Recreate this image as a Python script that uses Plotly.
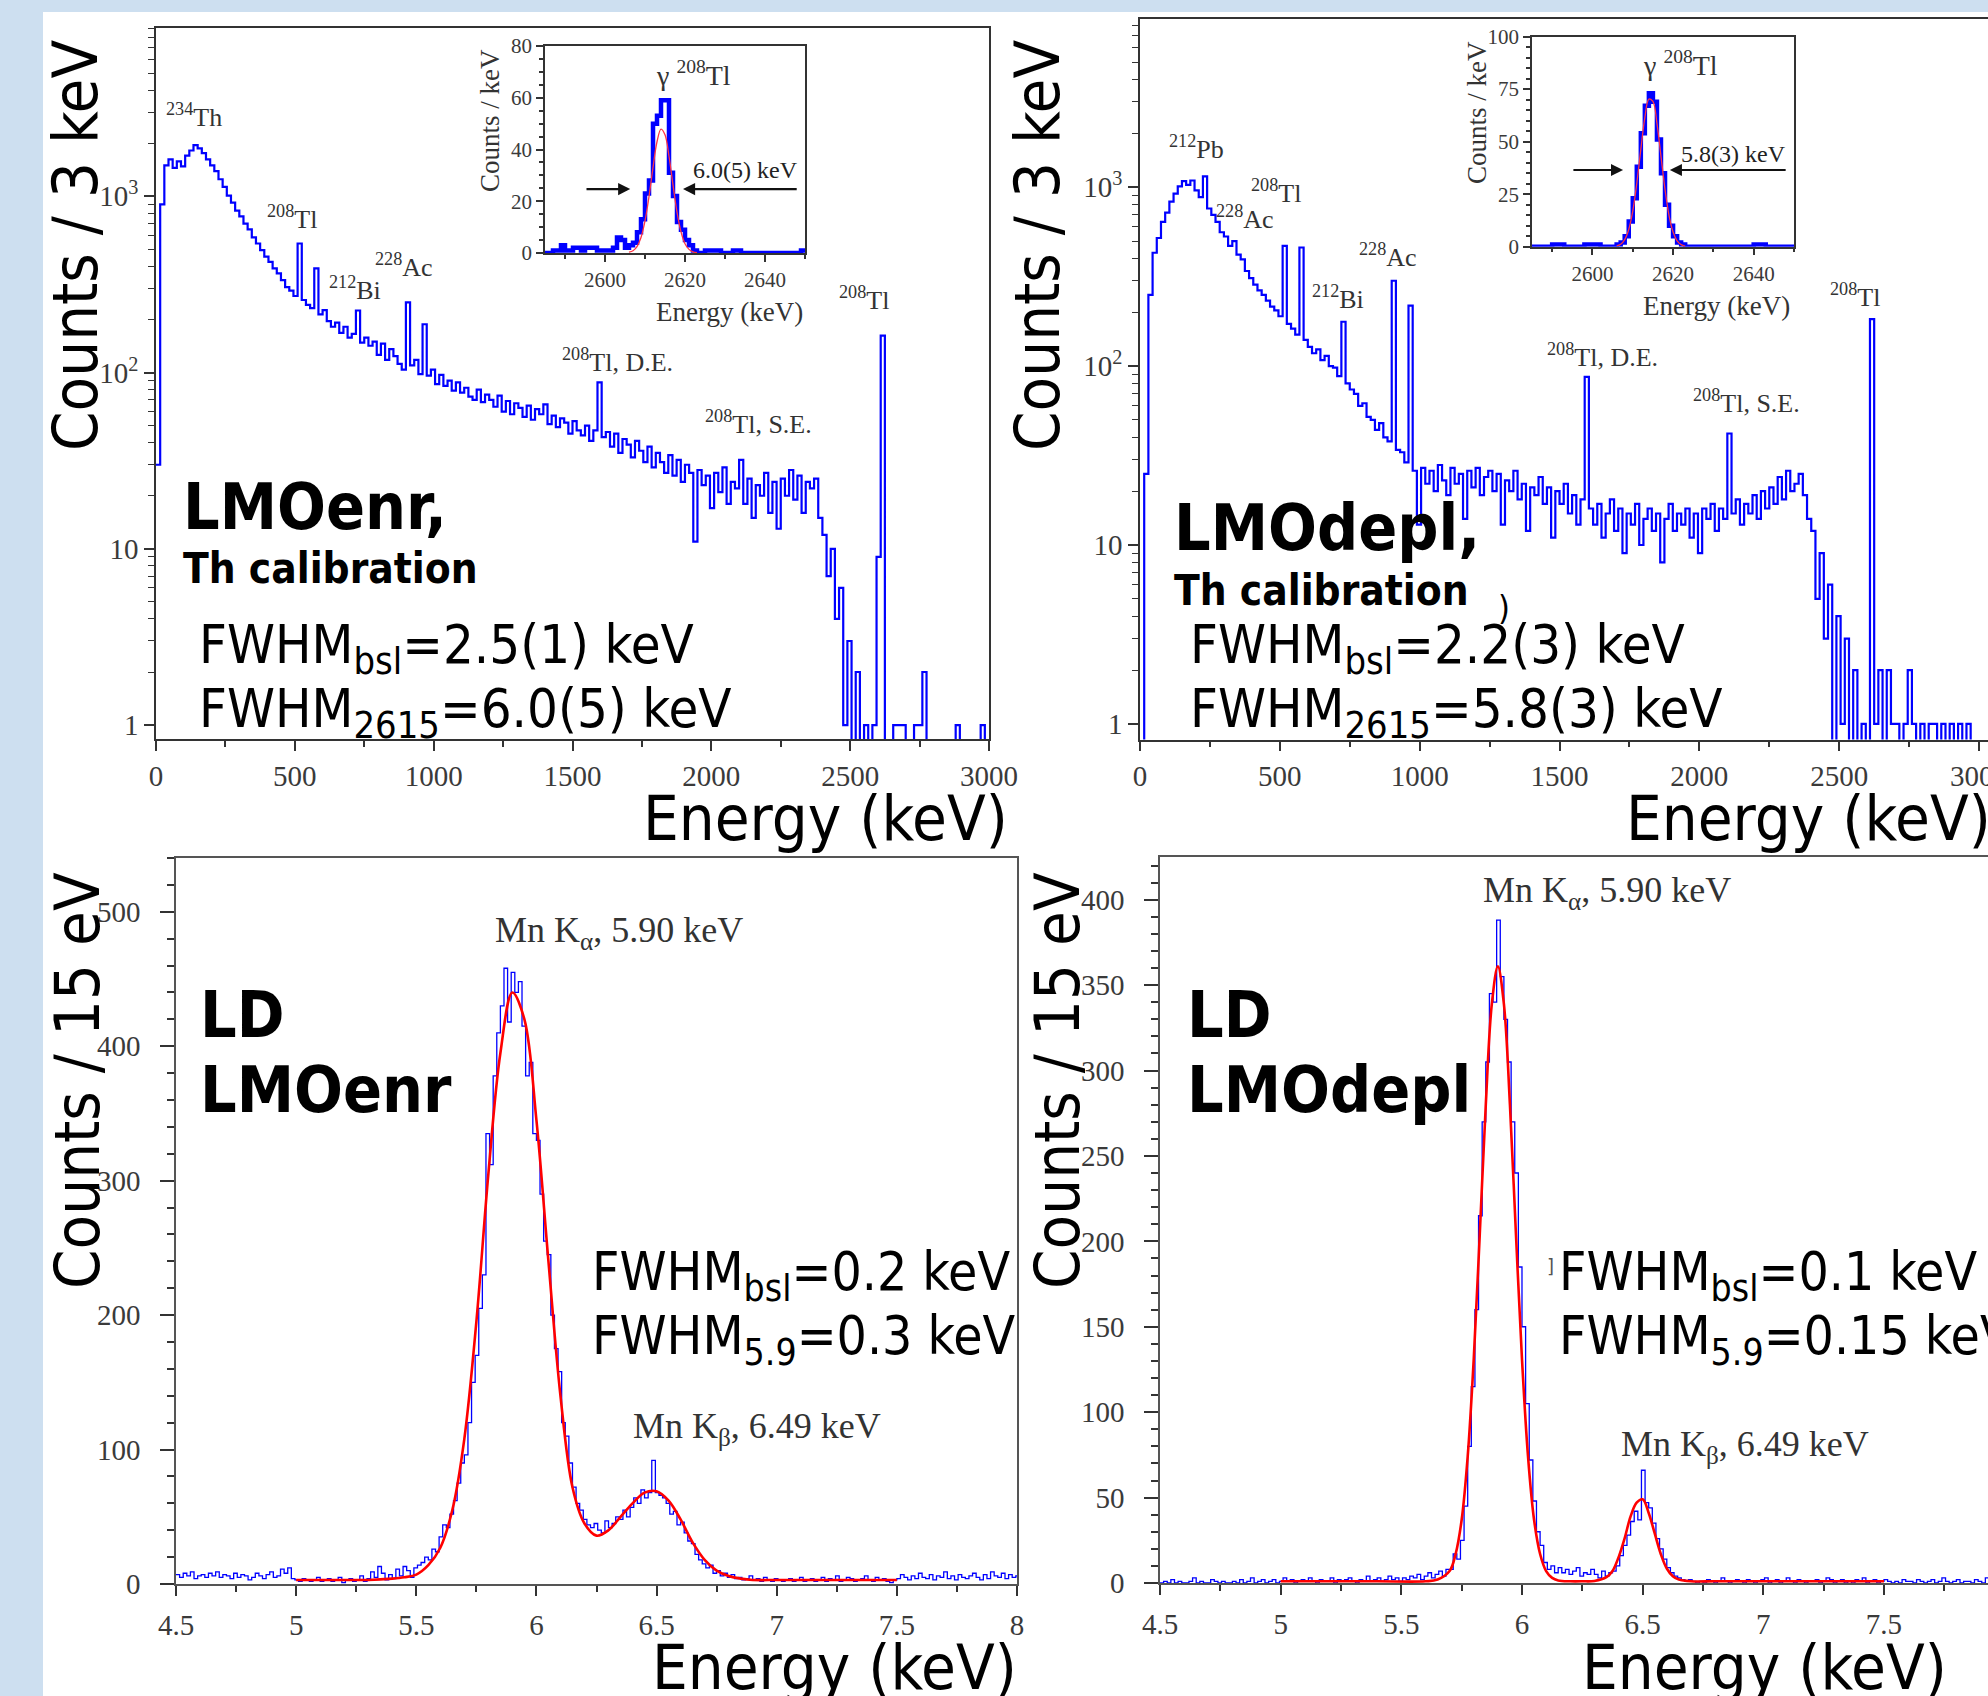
import numpy as np
import plotly.graph_objects as go

W, H = 1988, 1696

# ------------------------------------------------------------------
# Th-calibration spectra: counts per 15-keV bin, bins start at 0 keV
# ------------------------------------------------------------------
TH_BIN_KEV = 15.0
lmo_enr_th = [
    30, 900, 1500, 1620, 1450, 1580, 1480, 1700, 1820, 1950,
    1870, 1760, 1620, 1500, 1390, 1250, 1130, 1010, 920, 830,
    770, 700, 650, 585, 540, 495, 455, 425, 390, 365,
    335, 305, 292, 272, 540, 258, 242, 232, 390, 214,
    226, 196, 182, 192, 168, 182, 158, 166, 225, 148,
    158, 142, 150, 126, 146, 118, 136, 124, 112, 104,
    250, 110, 118, 98, 188, 96, 104, 86, 97, 84,
    90, 79, 88, 77, 82, 73, 70, 80, 68, 75,
    70, 64, 74, 60, 69, 58, 67, 63, 56, 65,
    54, 62, 58, 66, 51, 57, 49, 55, 52, 45,
    53, 47, 44, 50, 41, 47, 88, 43, 46, 38,
    45, 35, 42, 39, 33, 41, 36, 31, 38, 29,
    35, 31, 27, 34, 26, 32, 24, 30, 27, 11,
    28, 23, 26, 17, 27, 21, 29, 18, 24, 22,
    32, 18, 25, 15, 23, 20, 27, 16, 24, 13,
    25, 20, 28, 19, 26, 16, 24, 22, 25, 15,
    12, 7, 10, 4, 6, 1, 3, 0, 2, 0,
    1, 0, 1, 9, 162, 0, 0, 1, 1, 1,
    0, 0, 1, 1, 2, 0, 0, 0, 0, 0,
    0, 0, 1, 0, 0, 0, 0, 0, 1, 0,
]
lmo_depl_th = [
    0, 25, 250, 430, 520, 640, 720, 830, 920, 1010,
    1080, 1030, 1090, 960, 880, 1150, 760, 700, 640, 560,
    530, 470, 500, 420, 395, 340, 310, 285, 265, 250,
    232, 215, 205, 190, 470, 172, 162, 150, 460, 140,
    128, 118, 124, 108, 114, 100, 98, 88, 177, 80,
    74, 70, 60, 62, 52, 50, 44, 48, 40, 38,
    300, 34, 33, 29, 218, 26, 13, 27, 22, 26,
    20, 28, 23, 19, 27, 22, 25, 14, 26, 21,
    27, 19, 24, 26, 20, 25, 13, 23, 20, 26,
    18, 22, 12, 21, 19, 24, 17, 21, 11, 20,
    17, 22, 15, 19, 13, 18, 87, 16, 13, 17,
    11, 15, 18, 12, 16, 9, 15, 13, 17, 10,
    14, 16, 12, 15, 8, 14, 17, 12, 15, 13,
    16, 11, 15, 9, 16, 14, 17, 12, 16, 14,
    42, 15, 18, 13, 17, 15, 19, 14, 20, 16,
    21, 17, 24, 18, 26, 20, 22, 25, 19, 14,
    12, 5, 9, 3, 6, 0, 4, 1, 3, 0,
    2, 0, 1, 0, 183, 1, 2, 0, 2, 1,
    1, 0, 1, 2, 1, 0, 1, 0, 1, 1,
    0, 1, 0, 1, 0, 1, 0, 1, 0, 0,
]

# ------------------------------------------------------------------
# 2615 keV insets: counts per 1-keV bin, bins start at 2585 keV
# ------------------------------------------------------------------
INSET_LO_KEV = 2585.0
INSET_BIN_KEV = 1.0
lmo_enr_2615 = [
    0, 0, 1, 1, 3, 1, 1, 2, 2, 1,
    2, 2, 2, 1, 1, 1, 1, 2, 6, 5,
    2, 3, 4, 8, 13, 23, 28, 50, 53, 59,
    59, 31, 22, 12, 9, 5, 3, 1, 0, 0,
    1, 1, 1, 1, 0, 0, 0, 1, 1, 0,
    0, 0, 0, 0, 0, 0, 0, 0, 0, 0,
    0, 0, 0, 0, 1,
]
lmo_depl_2615 = [
    0, 0, 0, 0, 0, 1, 1, 1, 0, 0,
    0, 0, 0, 1, 1, 1, 1, 0, 0, 0,
    0, 1, 2, 5, 12, 23, 38, 54, 67, 73,
    69, 51, 35, 20, 10, 5, 2, 1, 0, 0,
    0, 0, 0, 0, 0, 0, 0, 0, 0, 0,
    0, 0, 0, 0, 0, 1, 1, 1, 0, 0,
    0, 0, 0, 0, 0,
]
fit_2615_energy = [2606, 2607, 2608, 2609, 2610, 2611, 2612, 2613, 2614,
                   2615, 2616, 2617, 2618, 2619, 2620, 2621, 2622, 2623]
lmo_enr_2615_fit = [0.3, 0.9, 2.5, 6, 12.4, 21.8, 33, 43, 47.9,
                    45.7, 37.4, 26.3, 15.8, 8.2, 3.6, 1.4, 0.45, 0.1]
lmo_depl_2615_fit = [0.4, 1.2, 3.4, 8.2, 16.9, 30.2, 46.3, 61.4, 70.2,
                     69.1, 58.7, 43, 27.2, 14.8, 7, 2.8, 1, 0.3]

# ------------------------------------------------------------------
# Light detectors, 55Fe X-rays: counts per 15-eV bin from 4.5 keV
# ------------------------------------------------------------------
LD_LO_KEV = 4.5
LD_BIN_KEV = 0.015
ld_enr_counts = [
    7, 5, 8, 6, 9, 4, 6, 7, 5, 8,
    6, 9, 5, 7, 6, 4, 8, 5, 7, 6,
    3, 5, 8, 6, 4, 7, 9, 5, 6, 11,
    8, 12, 4, 3, 2, 4, 3, 2, 3, 5,
    2, 3, 4, 2, 3, 5, 1, 3, 4, 2,
    3, 6, 2, 4, 9, 5, 13, 8, 3, 7,
    4, 11, 6, 13, 10, 5, 12, 14, 16, 20,
    18, 26, 24, 35, 44, 42, 52, 62, 75, 90,
    96, 120, 150, 170, 205, 230, 335, 312, 378, 410,
    430, 458, 418, 455, 440, 448, 415, 378, 388, 335,
    330, 290, 255, 245, 200, 175, 158, 120, 110, 90,
    72, 60, 55, 48, 44, 42, 45, 40, 38, 47,
    42, 45, 50, 48, 55, 50, 57, 64, 60, 70,
    64, 68, 92, 68, 66, 64, 60, 52, 54, 44,
    46, 38, 32, 30, 22, 18, 15, 12, 14, 8,
    10, 6, 8, 5, 7, 4, 5, 3, 4, 6,
    3, 4, 2, 5, 3, 2, 4, 3, 2, 3,
    4, 2, 3, 5, 2, 3, 4, 2, 3, 5,
    2, 4, 3, 6, 2, 3, 5, 4, 2, 3,
    4, 6, 3, 2, 5, 3, 4, 2, 1, 3,
    4, 7, 5, 3, 6, 4, 8, 5, 4, 7,
    3, 6, 5, 9, 4, 6, 3, 7, 5, 4,
    6, 8, 5, 3, 7, 4, 9, 6, 5, 8,
    4, 7, 5, 6,
]
ld_depl_counts = [
    0, 1, 0, 2, 0, 1, 0, 0, 1, 3,
    0, 1, 0, 0, 2, 1, 0, 1, 0, 0,
    1, 0, 2, 0, 1, 3, 0, 1, 2, 0,
    1, 2, 0, 1, 3, 1, 2, 0, 1, 2,
    1, 3, 1, 0, 2, 1, 1, 3, 0, 2,
    1, 2, 3, 1, 0, 2, 1, 4, 1, 2,
    3, 1, 2, 4, 2, 3, 1, 3, 2, 4,
    3, 5, 2, 4, 6, 3, 5, 7, 4, 8,
    8, 17, 14, 25, 45, 80, 115, 160, 215, 270,
    305, 345, 340, 388, 355, 330, 305, 270, 240, 185,
    150, 105, 72, 48, 30, 22, 12, 8, 10, 6,
    9, 6, 8, 5, 7, 9, 4, 6, 5, 8,
    5, 3, 7, 4, 6, 7, 10, 16, 22, 28,
    36, 42, 37, 66, 47, 44, 35, 26, 20, 14,
    9, 6, 4, 3, 2, 1, 2, 1, 0, 1,
    0, 2, 1, 0, 1, 3, 1, 0, 1, 2,
    1, 0, 2, 1, 0, 1, 2, 3, 0, 1,
    2, 0, 1, 3, 1, 0, 2, 1, 0, 1,
    1, 2, 0, 1, 3, 2, 0, 1, 2, 0,
    1, 0, 2, 1, 3, 0, 1, 2, 0, 1,
    2, 1, 0, 1, 0, 2, 1, 1, 0, 2,
    1, 0, 1, 2, 0, 1, 3, 1, 0, 1,
    2, 0, 1, 1, 0, 2, 1, 0, 3, 1,
    0, 2, 1, 1,
]
ld_enr_fit_energy = [5.0, 5.1, 5.2, 5.3, 5.4, 5.45, 5.5, 5.55, 5.6, 5.65,
                     5.7, 5.75, 5.8, 5.85, 5.9, 5.95, 6.0, 6.05, 6.1, 6.15,
                     6.2, 6.25, 6.3, 6.35, 6.4, 6.45, 6.5, 6.55, 6.6, 6.65,
                     6.7, 6.75, 6.8, 6.85, 6.9, 7.0, 7.1, 7.2, 7.3, 7.4, 7.5]
ld_enr_fit = [3, 3, 3, 3, 4, 5, 7, 14, 27, 55,
              108, 195, 305, 395, 440, 420, 345, 240, 140, 72,
              45, 36, 40, 50, 60, 68, 69, 62, 48, 31,
              18, 10, 6, 4, 3, 3, 3, 3, 3, 3, 3]
ld_depl_fit_energy = [5.0, 5.2, 5.4, 5.6, 5.65, 5.7, 5.725, 5.75, 5.775, 5.8,
                      5.825, 5.85, 5.875, 5.9, 5.925, 5.95, 5.975, 6.0,
                      6.025, 6.05, 6.075, 6.1, 6.125, 6.15, 6.2, 6.25, 6.3, 6.35,
                      6.375, 6.4, 6.425, 6.45, 6.475, 6.5, 6.525, 6.55, 6.575,
                      6.6, 6.625, 6.65, 6.7, 6.8, 7.0, 7.2, 7.5]
ld_depl_fit = [1, 1, 1, 1, 2, 7, 17, 37, 74, 131,
               204, 280, 339, 361, 339, 280, 204, 131,
               74, 37, 17, 7, 3, 1.5, 1, 1, 1.2, 3.4,
               7, 15, 26, 39, 47, 49, 41, 29, 17,
               8.5, 4, 2, 1, 1, 1, 1, 1]

# tick labels
th_tickvals = [0, 500, 1000, 1500, 2000, 2500, 3000]
log_tickvals = [1, 10, 100, 1000]
log_ticktext = ["1", "10", "10<sup>2</sup>", "10<sup>3</sup>"]
ld_tickvals = [4.5, 5, 5.5, 6, 6.5, 7, 7.5, 8]
ld_ticktext = ["4.5", "5", "5.5", "6", "6.5", "7", "7.5", "8"]
inset_tickvals = [2600, 2620, 2640]

# ------------------------------------------------------------------
SANS = "DejaVu Sans Condensed, DejaVu Sans, sans-serif"
SERIF = "Liberation Serif, Times New Roman, serif"
BLUE = "#0000ff"
RED = "#ff0000"
LBL = "#3a3a3a"


def step_xy(lo, width, counts, floor=None):
    c = np.asarray(counts, dtype=float)
    if floor is not None:
        c = np.where(c > 0, c, floor)
    edges = lo + width * np.arange(len(c) + 1)
    return edges, np.append(c, c[-1])


fig = go.Figure()


def hist(lo, w, counts, xa, ya, width, floor=None):
    x, y = step_xy(lo, w, counts, floor)
    fig.add_trace(go.Scatter(x=x, y=y, mode="lines", xaxis=xa, yaxis=ya,
                             line=dict(color=BLUE, width=width, shape="hv"),
                             hoverinfo="skip"))


def fitline(x, y, xa, ya, width, color=RED):
    fig.add_trace(go.Scatter(x=x, y=y, mode="lines", xaxis=xa, yaxis=ya,
                             line=dict(color=color, width=width, shape="spline"),
                             hoverinfo="skip"))


hist(0, TH_BIN_KEV, lmo_enr_th, "x", "y", 2.2, floor=0.3)
hist(0, TH_BIN_KEV, lmo_depl_th, "x2", "y2", 2.2, floor=0.3)
hist(LD_LO_KEV, LD_BIN_KEV, ld_enr_counts, "x3", "y3", 1.3)
fitline(ld_enr_fit_energy, ld_enr_fit, "x3", "y3", 2.6)
hist(LD_LO_KEV, LD_BIN_KEV, ld_depl_counts, "x4", "y4", 1.3)
fitline(ld_depl_fit_energy, ld_depl_fit, "x4", "y4", 2.6)
hist(INSET_LO_KEV, INSET_BIN_KEV, lmo_enr_2615, "x5", "y5", 4.5)
fitline(fit_2615_energy, lmo_enr_2615_fit, "x5", "y5", 1.3, "#ff3344")
hist(INSET_LO_KEV, INSET_BIN_KEV, lmo_depl_2615, "x6", "y6", 4.5)
fitline(fit_2615_energy, lmo_depl_2615_fit, "x6", "y6", 1.3, "#ff3344")


def X(px):
    return px / W


def Y(py):
    return 1 - py / H


def axis(**kw):
    base = dict(showgrid=False, zeroline=False, showline=True, linecolor="#333",
                linewidth=1.5, ticks="outside", tickcolor="#333", tickwidth=1.5,
                automargin=False, ticklabeloverflow="allow")
    base.update(kw)
    return base


main_font = dict(family=SERIF, size=29, color=LBL)
inset_font = dict(family=SERIF, size=21, color=LBL)
minor_log = dict(tickvals=[m * 10 ** d for d in range(0, 4) for m in range(2, 10)],
                 ticks="outside", ticklen=6, tickcolor="#333", tickwidth=1.2)

fig.update_layout(
    xaxis=axis(domain=[X(156), X(989)], range=[0, 3000], anchor="y", tickvals=th_tickvals,
               ticklen=10, mirror=True, tickfont=main_font,
               minor=dict(dtick=250, tick0=0, ticks="outside", ticklen=6, tickcolor="#333")),
    yaxis=axis(domain=[Y(739), Y(28)], type="log", range=[-0.079, 3.955], anchor="x",
               tickvals=log_tickvals, ticktext=log_ticktext, ticklen=10, mirror=True,
               tickfont=main_font, minor=minor_log),
    xaxis2=axis(domain=[X(1140), 1.0], range=[0, 3032], anchor="y2", tickvals=th_tickvals,
                ticklen=10, mirror=True, tickfont=main_font,
                minor=dict(dtick=250, tick0=0, ticks="outside", ticklen=6, tickcolor="#333")),
    yaxis2=axis(domain=[Y(739.5), Y(19)], type="log", range=[-0.087, 3.94], anchor="x2",
                tickvals=log_tickvals, ticktext=log_ticktext, ticklen=10, mirror=False,
                tickfont=main_font, minor=minor_log),
    xaxis3=axis(domain=[X(176), X(1017)], range=[4.5, 8.0], anchor="y3", tickvals=ld_tickvals,
                ticktext=ld_ticktext, ticklen=10, mirror=True, tickfont=main_font,
                linecolor="#555", ticklabelstandoff=4,
                minor=dict(dtick=0.25, tick0=4.5, ticks="outside", ticklen=6, tickcolor="#333")),
    yaxis3=axis(domain=[Y(1584), Y(858)], range=[0, 540], anchor="x3", dtick=100, tick0=0,
                ticklen=14, mirror=True, tickfont=main_font, linecolor="#555",
                ticklabelstandoff=14,
                minor=dict(dtick=20, tick0=0, ticks="outside", ticklen=7, tickcolor="#333")),
    xaxis4=axis(domain=[X(1160), 1.0], range=[4.5, 7.931], anchor="y4", tickvals=ld_tickvals,
                ticktext=ld_ticktext, ticklen=10, mirror=True, tickfont=main_font,
                linecolor="#555", ticklabelstandoff=4,
                minor=dict(dtick=0.25, tick0=4.5, ticks="outside", ticklen=6, tickcolor="#333")),
    yaxis4=axis(domain=[Y(1583), Y(857)], range=[0, 425], anchor="x4", dtick=50, tick0=0,
                ticklen=14, mirror=False, tickfont=main_font, linecolor="#555",
                ticklabelstandoff=14,
                minor=dict(dtick=10, tick0=0, ticks="outside", ticklen=7, tickcolor="#333")),
    xaxis5=axis(domain=[X(545), X(805)], range=[2585, 2650], anchor="y5",
                tickvals=inset_tickvals, ticklen=7, mirror=True, tickfont=inset_font,
                minor=dict(dtick=10, tick0=2590, ticks="outside", ticklen=4, tickcolor="#333")),
    yaxis5=axis(domain=[Y(253), Y(46)], range=[0, 80], anchor="x5", dtick=20, tick0=0,
                ticklen=7, mirror=True, tickfont=inset_font,
                minor=dict(dtick=5, tick0=0, ticks="outside", ticklen=4, tickcolor="#333")),
    xaxis6=axis(domain=[X(1532), X(1794)], range=[2585, 2650], anchor="y6",
                tickvals=inset_tickvals, ticklen=7, mirror=True, tickfont=inset_font,
                minor=dict(dtick=10, tick0=2590, ticks="outside", ticklen=4, tickcolor="#333")),
    yaxis6=axis(domain=[Y(246.7), Y(36.5)], range=[0, 100], anchor="x6", dtick=25, tick0=0,
                ticklen=7, mirror=True, tickfont=inset_font,
                minor=dict(dtick=5, tick0=0, ticks="outside", ticklen=4, tickcolor="#333")),
)

annotations = []


def ann(text, x, y, size, family=SANS, color="black", xanchor="center",
        yanchor="middle", angle=0):
    annotations.append(dict(text=text, x=X(x), y=Y(y), xref="paper", yref="paper",
                            showarrow=False, xanchor=xanchor, yanchor=yanchor,
                            textangle=angle,
                            font=dict(family=family, size=size, color=color)))


# big axis titles
for txt, x, y, ang in [
    ("Counts / 3 keV", 76, 246, -90), ("Energy (keV)", 825, 819, 0),
    ("Counts / 3 keV", 1038, 246, -90), ("Energy (keV)", 1808, 819, 0),
    ("Counts / 15 eV", 77, 1081, -90), ("Energy (keV)", 834, 1667, 0),
    ("Counts / 15 eV", 1057, 1081, -90), ("Energy (keV)", 1764, 1667, 0),
]:
    ann(txt, x, y, 63, angle=ang)

# detector names
for txt, x, y, s in [
    ("<b>LMOenr,</b>", 181, 507, 64), ("<b>Th calibration</b>", 181, 568, 42),
    ("<b>LMOdepl,</b>", 1172, 528, 64), ("<b>Th calibration</b>", 1172, 590, 42),
    ("<b>LD</b>", 198, 1015, 64), ("<b>LMOenr</b>", 198, 1090, 64),
    ("<b>LD</b>", 1185, 1015, 64), ("<b>LMOdepl</b>", 1185, 1090, 64),
]:
    ann(txt, x, y, s, xanchor="left")

# resolutions
for txt, x, y, s in [
    ("FWHM<sub>bsl</sub>=2.5(1) keV", 197, 648, 54),
    ("FWHM<sub>2615</sub>=6.0(5) keV", 197, 712, 54),
    ("FWHM<sub>bsl</sub>=2.2(3) keV", 1188, 648, 54),
    ("FWHM<sub>2615</sub>=5.8(3) keV", 1188, 712, 54),
    ("FWHM<sub>bsl</sub>=0.2 keV", 590, 1275, 53),
    ("FWHM<sub>5.9</sub>=0.3 keV", 590, 1339, 53),
    ("FWHM<sub>bsl</sub>=0.1 keV", 1557, 1275, 53),
    ("FWHM<sub>5.9</sub>=0.15 keV", 1557, 1339, 53),
]:
    ann(txt, x, y, s, xanchor="left")
ann(")", 1504, 608, 34)
ann("]", 1550, 1266, 20, color="#555")

# peak labels
for txt, x, y in [
    ("<sup>234</sup>Th", 194, 115), ("<sup>208</sup>Tl", 292, 218),
    ("<sup>212</sup>Bi", 355, 289), ("<sup>228</sup>Ac", 404, 265),
    ("<sup>208</sup>Tl, D.E.", 617, 360), ("<sup>208</sup>Tl, S.E.", 758, 422),
    ("<sup>208</sup>Tl", 864, 299),
    ("<sup>212</sup>Pb", 1196, 147), ("<sup>228</sup>Ac", 1245, 217),
    ("<sup>208</sup>Tl", 1276, 191), ("<sup>212</sup>Bi", 1338, 297),
    ("<sup>228</sup>Ac", 1388, 256), ("<sup>208</sup>Tl, D.E.", 1602, 355),
    ("<sup>208</sup>Tl, S.E.", 1746, 401), ("<sup>208</sup>Tl", 1855, 295),
]:
    ann(txt, x, y, 26, family=SERIF, color="#333")

# Mn X-ray labels
for txt, x, y in [
    ("Mn K<sub>α</sub>, 5.90 keV", 619, 932), ("Mn K<sub>β</sub>, 6.49 keV", 757, 1428),
    ("Mn K<sub>α</sub>, 5.90 keV", 1607, 892), ("Mn K<sub>β</sub>, 6.49 keV", 1745, 1446),
]:
    ann(txt, x, y, 36, family=SERIF, color="#333")

# inset texts
ann("Counts / keV", 490, 121, 27, family=SERIF, color="#333", angle=-90)
ann("Energy (keV)", 729, 312, 27, family=SERIF, color="#333")
ann("γ <sup>208</sup>Tl", 693, 73, 28, family=SERIF, color="#333")
ann("6.0(5) keV", 745, 170, 24, family=SERIF, color="#222")
ann("Counts / keV", 1477, 113, 27, family=SERIF, color="#333", angle=-90)
ann("Energy (keV)", 1716, 306, 27, family=SERIF, color="#333")
ann("γ <sup>208</sup>Tl", 1680, 63, 28, family=SERIF, color="#333")
ann("5.8(3) keV", 1733, 154, 24, family=SERIF, color="#222")

# FWHM arrows in insets (data coordinates of the insets)
for xa, ya, yv, tail_l, head_l, tail_r, head_r in [
    ("x5", "y5", 24.7, 2595.0, 2606.3, 2648.3, 2619.5),
    ("x6", "y6", 36.5, 2594.9, 2607.6, 2648.3, 2619.2),
]:
    for tail, head in [(tail_l, head_l), (tail_r, head_r)]:
        annotations.append(dict(x=head, y=yv, ax=tail, ay=yv, xref=xa, yref=ya,
                                axref=xa, ayref=ya, text="", showarrow=True,
                                arrowhead=2, arrowsize=1.1, arrowwidth=2.2,
                                arrowcolor="#111"))

fig.update_layout(
    width=W, height=H, margin=dict(l=0, r=0, t=0, b=0, autoexpand=False),
    showlegend=False,
    paper_bgcolor="#cddff0", plot_bgcolor="white",
    annotations=annotations,
    shapes=[dict(type="rect", xref="paper", yref="paper", x0=X(43), x1=1.0,
                 y0=0, y1=Y(12), fillcolor="white", line=dict(width=0), layer="below")],
)

fig.write_html(
    "out.html",
    config={"displayModeBar": False},
    post_script="document.body.style.margin='0px';document.body.style.padding='0px';"
                "document.documentElement.style.margin='0px';",
)
